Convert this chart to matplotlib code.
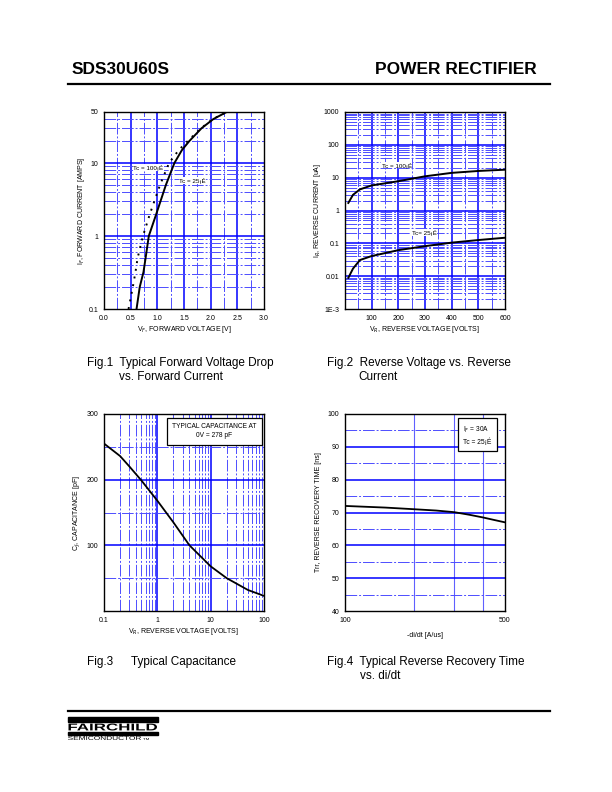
import numpy as np
import matplotlib
matplotlib.use("Agg")
import matplotlib.pyplot as plt
from matplotlib.ticker import FixedLocator
from matplotlib.textpath import TextPath
from matplotlib.patches import PathPatch
from matplotlib.font_manager import FontProperties
from matplotlib.transforms import Affine2D

plt.rcParams['font.family'] = ['Liberation Sans', 'DejaVu Sans']

# Fig.1 forward characteristic
if_amps = [0.1, 0.2, 0.32, 0.5, 1, 2, 5, 10, 15, 20, 30, 40, 50]
vf_25c = [0.61, 0.67, 0.74, 0.78, 0.84, 0.98, 1.16, 1.32, 1.46, 1.60, 1.83, 2.05, 2.30]
vf_100c = [0.46, 0.54, 0.59, 0.63, 0.73, 0.86, 1.05, 1.22, 1.40, 1.57, 1.82, 2.04, 2.30]

# Fig.2 reverse current
vr_volts = [12.5, 30, 56, 100, 200, 300, 400, 500, 600]
ir_100c = [1.7, 3.0, 4.4, 5.8, 7.8, 11.0, 14.0, 16.0, 17.5]
ir_25c = [0.0089, 0.017, 0.031, 0.041, 0.062, 0.082, 0.105, 0.126, 0.148]

# Fig.3 capacitance
vr_cap = [0.1, 0.2, 0.3, 0.5, 1, 2, 4, 10, 20, 50, 100]
cap_pf = [255, 236, 220, 199, 168, 135, 100, 68, 50, 32, 23]

# Fig.4 reverse recovery time
didt = [100, 150, 200, 250, 300, 350, 400, 450, 500]
trr_ns = [72.0, 71.5, 71.0, 70.6, 70.1, 69.3, 68.5, 67.7, 67.0]

W, H = 612, 792
fig = plt.figure(figsize=(W / 100, H / 100), dpi=100)

def px_axes(left, top, right, bottom):
    return fig.add_axes([left / W, (H - bottom) / H, (right - left) / W, (bottom - top) / H])

BLUE = '#0000ff'
LIGHT = '#4d4dff'
DASH = (0, (12, 2, 2, 2))

def style(ax, major_v, minor_v, major_h, minor_h, vcol=BLUE, vlw=1.1):
    for x in major_v:
        ax.axvline(x, color=vcol, lw=vlw, zorder=1)
    for x in minor_v:
        ax.axvline(x, color=LIGHT, lw=0.7, ls=DASH, zorder=1)
    for y in major_h:
        ax.axhline(y, color=BLUE, lw=1.1, zorder=1)
    for y in minor_h:
        ax.axhline(y, color=LIGHT, lw=0.7, ls=DASH, zorder=1)
    ax.tick_params(which='both', length=0, labelsize=5, pad=4)
    ax.xaxis.set_minor_locator(FixedLocator([]))
    ax.yaxis.set_minor_locator(FixedLocator([]))
    for s in ax.spines.values():
        s.set_linewidth(1.0)
        s.set_zorder(3)

def log_minors(lo_exp, hi_exp, top=None):
    out = []
    for e in range(lo_exp, hi_exp):
        for m in range(2, 10):
            v = m * 10.0 ** e
            if top is None or v < top:
                out.append(v)
    return out

def stretched_text(s, left, top, right, bottom, bold=False):
    # text drawn as a path and stretched to fill a pixel box (wide logo lettering)
    tp = TextPath((0, 0), s, size=10,
                  prop=FontProperties(family='Liberation Sans', weight='bold' if bold else 'normal'))
    bb = tp.get_extents()
    tr = (Affine2D().translate(-bb.x0, -bb.y0)
          .scale((right - left) / W / bb.width, (bottom - top) / H / bb.height)
          .translate(left / W, (H - bottom) / H) + fig.transFigure)
    fig.add_artist(PathPatch(tp, transform=tr, fc='black', ec='none'))

# header
fig.text(72 / W, 1 - 70 / H, 'SDS30U60S', fontsize=12.5, fontweight='bold', va='center')
fig.text(537 / W, 1 - 70 / H, 'POWER RECTIFIER', fontsize=12.5, fontweight='bold', va='center', ha='right')
fig.add_artist(plt.Line2D([68 / W, 550 / W], [1 - 84 / H, 1 - 84 / H], color='black', lw=1.6))

# ---- Fig.1
ax1 = px_axes(104, 112, 264, 309)
ax1.set_yscale('log')
ax1.set_xlim(0, 3)
ax1.set_ylim(0.1, 50)
style(ax1, [0.5, 1.0, 1.5, 2.0, 2.5], [0.25, 0.75, 1.25, 1.75, 2.25, 2.75],
      [1, 10], log_minors(-1, 2, top=50))
ax1.plot(vf_25c, if_amps, color='black', lw=1.4, zorder=2)
ax1.plot(vf_100c, if_amps, color='black', lw=1.4, ls=(0, (1, 3)), zorder=2)
ax1.set_xticks([0, 0.5, 1, 1.5, 2, 2.5, 3])
ax1.set_xticklabels(['0.0', '0.5', '1.0', '1.5', '2.0', '2.5', '3.0'])
ax1.set_yticks([0.1, 1, 10, 50])
ax1.set_yticklabels(['0.1', '1', '10', '50'])
ax1.text(0.55, 8.7, 'Tc = 100¡É', fontsize=4.5, va='center', zorder=4,
         bbox=dict(fc='white', ec='none', pad=0.3))
ax1.text(1.41, 5.8, 'Tc = 25¡É', fontsize=4.5, va='center', zorder=4,
         bbox=dict(fc='white', ec='none', pad=0.3))
ax1.set_xlabel('V$_F$, FORWARD VOLTAGE [V]', fontsize=5, labelpad=2)
ax1.set_ylabel('I$_F$, FORWARD CURRENT [AMPS]', fontsize=5, labelpad=1)

# ---- Fig.2
ax2 = px_axes(345, 112, 505, 309)
ax2.set_yscale('log')
ax2.set_xlim(0, 600)
ax2.set_ylim(1e-3, 1000)
style(ax2, [100, 200, 300, 400, 500], [50, 150, 250, 350, 450, 550],
      [0.01, 0.1, 1, 10, 100], log_minors(-3, 3))
ax2.plot(vr_volts, ir_100c, color='black', lw=1.4, zorder=2)
ax2.plot(vr_volts, ir_25c, color='black', lw=1.4, zorder=2)
ax2.set_xticks([100, 200, 300, 400, 500, 600])
ax2.set_yticks([1e-3, 0.01, 0.1, 1, 10, 100, 1000])
ax2.set_yticklabels(['1E-3', '0.01', '0.1', '1', '10', '100', '1000'])
ax2.text(137, 24, 'Tc = 100¡É', fontsize=4.5, va='center', zorder=4,
         bbox=dict(fc='white', ec='none', pad=0.3))
ax2.text(250, 0.21, 'Tc= 25¡É', fontsize=4.5, va='center', zorder=4,
         bbox=dict(fc='white', ec='none', pad=0.3))
ax2.set_xlabel('V$_R$, REVERSE VOLTAGE [VOLTS]', fontsize=5, labelpad=2)
ax2.set_ylabel('I$_R$, REVERSE CURRENT [uA]', fontsize=5, labelpad=1)

# ---- Fig.3
ax3 = px_axes(104, 414, 264, 611)
ax3.set_xscale('log')
ax3.set_xlim(0.1, 100)
ax3.set_ylim(0, 300)
style(ax3, [1, 10], log_minors(-1, 2), [100, 200], [50, 150, 250])
ax3.plot(vr_cap, cap_pf, color='black', lw=1.3, zorder=2)
ax3.set_xticks([0.1, 1, 10, 100])
ax3.set_xticklabels(['0.1', '1', '10', '100'])
ax3.set_yticks([100, 200, 300])
ax3.set_yticklabels(['100', '200', '300'])
ax3.text(0.955, 0.955, 'TYPICAL CAPACITANCE AT\n0V = 278 pF', transform=ax3.transAxes,
         fontsize=4.8, ha='right', va='top', multialignment='center', linespacing=1.5, zorder=4,
         bbox=dict(fc='white', ec='black', lw=0.9, boxstyle='square,pad=0.8'))
ax3.set_xlabel('V$_R$, REVERSE VOLTAGE [VOLTS]', fontsize=5, labelpad=2)
ax3.set_ylabel('C$_J$, CAPACITANCE [pF]', fontsize=5, labelpad=3)

# ---- Fig.4
ax4 = px_axes(345, 414, 505, 611)
ax4.set_xscale('log')
ax4.set_xlim(100, 500)
ax4.set_ylim(40, 100)
style(ax4, [200, 300, 400], [], [50, 60, 70, 80, 90], [45, 55, 65, 75, 85, 95],
      vcol='#6060ff', vlw=0.8)
ax4.plot(didt, trr_ns, color='black', lw=1.3, zorder=2)
ax4.set_xticks([100, 500])
ax4.set_xticklabels(['100', '500'])
ax4.set_yticks(range(40, 101, 10))
ax4.text(0.74, 0.945, 'I$_F$ = 30A\nTc = 25¡É', transform=ax4.transAxes,
         fontsize=4.8, ha='left', va='top', linespacing=1.6, zorder=4,
         bbox=dict(fc='white', ec='black', lw=0.9, boxstyle='square,pad=0.8'))
ax4.set_xlabel('-di/dt [A/us]', fontsize=5, labelpad=6)
ax4.set_ylabel('Trr, REVERSE RECOVERY TIME [ns]', fontsize=5, labelpad=4)

# captions
cap = dict(fontsize=8.5, va='center')
fig.text(87 / W, 1 - 363 / H, 'Fig.1  Typical Forward Voltage Drop', **cap)
fig.text(119 / W, 1 - 377 / H, 'vs. Forward Current', **cap)
fig.text(327 / W, 1 - 363 / H, 'Fig.2  Reverse Voltage vs. Reverse', **cap)
fig.text(358 / W, 1 - 377 / H, 'Current', **cap)
fig.text(87 / W, 1 - 662 / H, 'Fig.3', **cap)
fig.text(131 / W, 1 - 662 / H, 'Typical Capacitance', **cap)
fig.text(327 / W, 1 - 662 / H, 'Fig.4  Typical Reverse Recovery Time', **cap)
fig.text(360 / W, 1 - 676 / H, 'vs. di/dt', **cap)

# footer
fig.add_artist(plt.Line2D([68 / W, 550 / W], [1 - 711 / H, 1 - 711 / H], color='black', lw=1.6))
fig.add_artist(plt.Rectangle((68 / W, 1 - 722 / H), 90 / W, 5 / H, color='black', transform=fig.transFigure))
fig.add_artist(plt.Rectangle((68 / W, 1 - 735 / H), 90 / W, 3.5 / H, color='black', transform=fig.transFigure))
stretched_text('FAIRCHILD', 68.5, 723.5, 157, 730.5, bold=True)
stretched_text('SEMICONDUCTOR', 68, 736, 141, 740)
stretched_text('TM', 143, 738, 149, 740)

fig.savefig('out.png', dpi=100)
